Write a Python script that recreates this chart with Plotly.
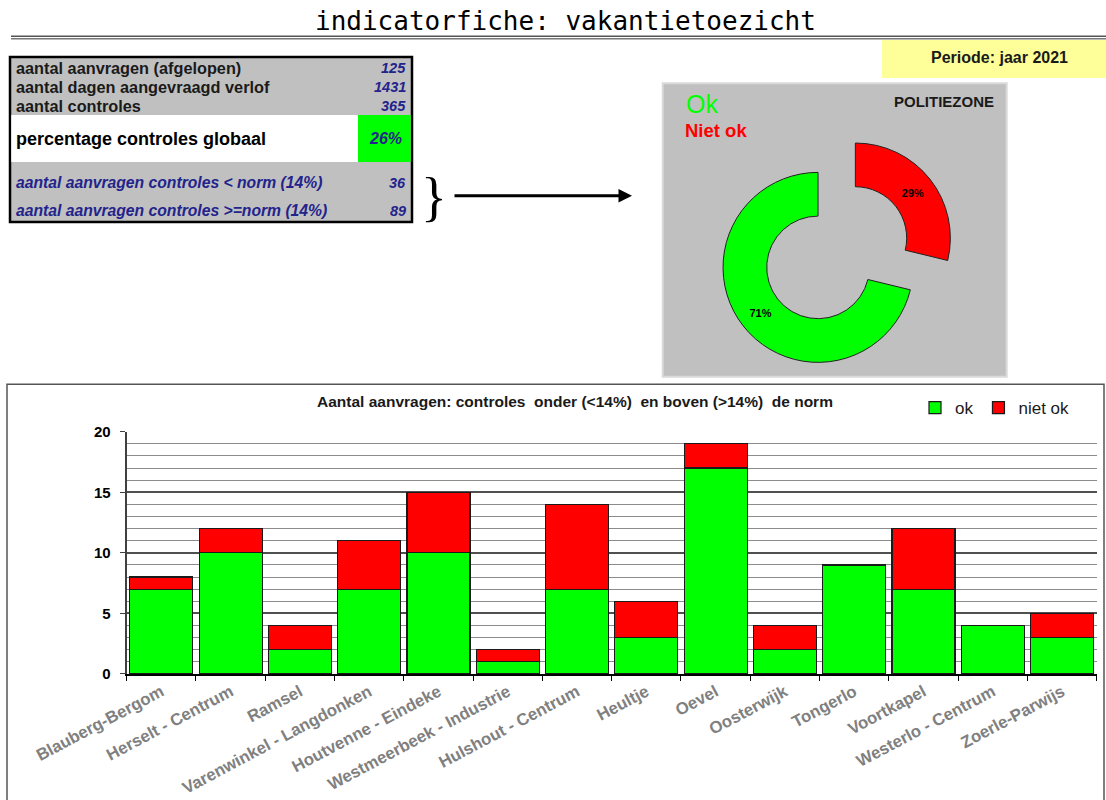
import plotly.graph_objects as go

# ---- data -------------------------------------------------------------
wijken = [
    "Blauberg-Bergom", "Herselt - Centrum", "Ramsel", "Varenwinkel - Langdonken",
    "Houtvenne - Eindeke", "Westmeerbeek - Industrie", "Hulshout - Centrum",
    "Heultje", "Oevel", "Oosterwijk", "Tongerlo", "Voortkapel",
    "Westerlo - Centrum", "Zoerle-Parwijs",
]
ok = [7, 10, 2, 7, 10, 1, 7, 3, 17, 2, 9, 7, 4, 3]
niet_ok = [1, 2, 2, 4, 5, 1, 7, 3, 2, 2, 0, 5, 0, 2]

dagen_verlof = 1431
aantal_controles = 365
norm_pct = 14
periode = "jaar 2021"

aantal_aanvragen = sum(ok) + sum(niet_ok)
onder_norm = sum(niet_ok)
boven_norm = sum(ok)
pct_globaal = round(aantal_controles / dagen_verlof * 100)

# ---- page geometry helpers (pixel -> paper) ---------------------------
W, H = 1106, 800


def px(x):
    return x / W


def py(y):
    return 1 - y / H


FONT = "Liberation Sans, Arial, sans-serif"
NAVY = "#23238C"
GREEN = "#00FF00"
RED = "#FF0000"
GRAY = "#C0C0C0"

fig = go.Figure()

# ---- stacked bars -----------------------------------------------------
fig.add_trace(go.Bar(
    x=wijken, y=ok, name="ok",
    marker=dict(color=GREEN, line=dict(color="#1a1a1a", width=1.2)),
    xaxis="x", yaxis="y",
))
fig.add_trace(go.Bar(
    x=wijken, y=niet_ok, name="niet ok",
    marker=dict(color=RED, line=dict(color="#1a1a1a", width=1.2)),
    xaxis="x", yaxis="y",
))

# ---- exploded donut ---------------------------------------------------
cx, cy, r, pull = 836.7, 252.7, 95, 0.25
half = r * (1 + pull)
fig.add_trace(go.Pie(
    labels=["niet ok", "ok"],
    values=[onder_norm, boven_norm],
    marker=dict(colors=[RED, GREEN], line=dict(color="#222222", width=1)),
    hole=0.54,
    pull=[pull, pull],
    sort=False,
    direction="clockwise",
    rotation=0,
    texttemplate="%{percent:.0%}",
    textposition="inside",
    insidetextorientation="horizontal",
    textfont=dict(family=FONT, size=11, color="black", weight="bold"),
    showlegend=False,
    automargin=False,
    domain=dict(x=[px(cx - half), px(cx + half)], y=[py(cy + half), py(cy - half)]),
))

shapes = []
annotations = []

# ---- page header ------------------------------------------------------
annotations.append(dict(
    x=px(565), y=py(21), xref="paper", yref="paper", showarrow=False,
    text="indicatorfiche: vakantietoezicht",
    font=dict(family="DejaVu Sans Mono, monospace", size=26, color="black"),
    xanchor="center", yanchor="middle",
))
for yy, col in [(36.2, "#555555"), (38.8, "#777777")]:
    shapes.append(dict(type="line", xref="paper", yref="paper",
                       x0=px(11), x1=1, y0=py(yy), y1=py(yy),
                       line=dict(color=col, width=1.5)))

# period box
shapes.append(dict(type="rect", xref="paper", yref="paper",
                   x0=px(882), x1=1, y0=py(78), y1=py(40),
                   fillcolor="#FFFF99", line=dict(width=0), layer="below"))
annotations.append(dict(
    x=px(999), y=py(57), xref="paper", yref="paper", showarrow=False,
    text=f"<b>Periode: {periode}</b>",
    font=dict(family=FONT, size=16, color="#1a1a1a"),
    xanchor="center", yanchor="middle",
))

# ---- summary table ----------------------------------------------------
shapes.append(dict(type="rect", xref="paper", yref="paper",
                   x0=px(10), x1=px(412), y0=py(222), y1=py(57),
                   fillcolor=GRAY, line=dict(color="black", width=2.5),
                   layer="below"))
shapes.append(dict(type="rect", xref="paper", yref="paper",
                   x0=px(11.3), x1=px(358), y0=py(162), y1=py(115),
                   fillcolor="white", line=dict(width=0), layer="below"))
shapes.append(dict(type="rect", xref="paper", yref="paper",
                   x0=px(358), x1=px(410.7), y0=py(162), y1=py(115),
                   fillcolor=GREEN, line=dict(width=0), layer="below"))

table_rows = [
    ("aantal aanvragen (afgelopen)", str(aantal_aanvragen), 68.3, False),
    ("aantal dagen aangevraagd verlof", str(dagen_verlof), 87.3, False),
    ("aantal controles", str(aantal_controles), 106.0, False),
    (f"aantal aanvragen controles < norm ({norm_pct}%)", str(onder_norm), 182.7, True),
    (f"aantal aanvragen controles >=norm ({norm_pct}%)", str(boven_norm), 211.0, True),
]
for label, val, yy, italic in table_rows:
    safe = label.replace("<", "&lt;").replace(">", "&gt;")
    lab = f"<b><i>{safe}</i></b>" if italic else f"<b>{safe}</b>"
    annotations.append(dict(
        x=px(14), y=py(yy), xref="paper", yref="paper", showarrow=False,
        text=lab,
        font=dict(family=FONT, size=15.7 if italic else 16.3,
                  color=NAVY if italic else "#1a1a1a"),
        xanchor="left", yanchor="middle",
    ))
    annotations.append(dict(
        x=px(408), y=py(yy), xref="paper", yref="paper", showarrow=False,
        text=f"<b><i>{val}</i></b>", font=dict(family=FONT, size=14.5, color=NAVY),
        xanchor="right", yanchor="middle",
    ))
annotations.append(dict(
    x=px(14), y=py(139), xref="paper", yref="paper", showarrow=False,
    text="<b>percentage controles globaal</b>",
    font=dict(family=FONT, size=18, color="black"),
    xanchor="left", yanchor="middle",
))
annotations.append(dict(
    x=px(385), y=py(139), xref="paper", yref="paper", showarrow=False,
    text=f"<b><i>{pct_globaal}%</i></b>",
    font=dict(family=FONT, size=16, color=NAVY),
    xanchor="center", yanchor="middle",
))

# brace + arrow towards the donut
annotations.append(dict(
    x=px(434), y=py(197), xref="paper", yref="paper", showarrow=False,
    text="}", font=dict(family="Liberation Serif, serif", size=54, color="black"),
    xanchor="center", yanchor="middle",
))
annotations.append(dict(
    x=px(632), y=py(195.7), xref="paper", yref="paper", text="",
    showarrow=True, ax=-179, ay=0, arrowhead=2, arrowsize=0.9,
    arrowwidth=3, arrowcolor="black",
))

# ---- donut panel ------------------------------------------------------
shapes.append(dict(type="rect", xref="paper", yref="paper",
                   x0=px(662.7), x1=px(1006.7), y0=py(376.7), y1=py(83.3),
                   fillcolor=GRAY, line=dict(color="#DADADA", width=2),
                   layer="below"))
annotations.append(dict(
    x=px(684), y=py(104), xref="paper", yref="paper", showarrow=False,
    text="Ok", font=dict(family=FONT, size=25, color=GREEN),
    xanchor="left", yanchor="middle",
))
annotations.append(dict(
    x=px(683), y=py(130.5), xref="paper", yref="paper", showarrow=False,
    text="<b>Niet ok</b>", font=dict(family=FONT, size=18.5, color=RED),
    xanchor="left", yanchor="middle",
))
annotations.append(dict(
    x=px(996), y=py(101.7), xref="paper", yref="paper", showarrow=False,
    text="<b>POLITIEZONE</b>", font=dict(family=FONT, size=15, color="#1a1a1a"),
    xanchor="right", yanchor="middle",
))

# ---- bar chart panel --------------------------------------------------
shapes.append(dict(type="rect", xref="paper", yref="paper",
                   x0=px(7), x1=px(1104), y0=py(806), y1=py(384.3),
                   fillcolor="white", line=dict(color="#555555", width=1.5),
                   layer="below"))
annotations.append(dict(
    x=px(575), y=py(402), xref="paper", yref="paper", showarrow=False,
    text=f"<b>Aantal aanvragen: controles\u00a0 onder (&lt;{norm_pct}%)\u00a0 en boven (&gt;{norm_pct}%)\u00a0 de norm</b>",
    font=dict(family=FONT, size=15.5, color="#1a1a1a"),
    xanchor="center", yanchor="middle",
))

fig.update_layout(
    width=W, height=H, autosize=False,
    margin=dict(l=0, r=0, t=0, b=0, autoexpand=False),
    paper_bgcolor="white",
    plot_bgcolor=GRAY,
    barmode="stack",
    bargap=0.09,
    shapes=shapes,
    annotations=annotations,
    showlegend=True,
    legend=dict(
        orientation="h", x=px(915), y=py(408), xanchor="left", yanchor="middle",
        font=dict(family=FONT, size=17, color="#1a1a1a"),
        bgcolor="rgba(0,0,0,0)", traceorder="normal",
    ),
    xaxis=dict(
        domain=[px(126.7), px(1096.7)], anchor="y", automargin=False,
        showline=True, linecolor="black", linewidth=1.5,
        ticks="outside", tickson="boundaries", ticklen=5, tickcolor="black",
        showgrid=False, tickangle=-28,
        tickfont=dict(family=FONT, size=16.8, color="#808080", weight="bold"),
        fixedrange=True,
    ),
    yaxis=dict(
        domain=[py(673.9), py(431.7)], anchor="x", automargin=False,
        range=[0, 20], dtick=5, tick0=0,
        showline=True, linecolor="#404040", linewidth=2,
        ticks="outside", ticklen=5, tickcolor="#404040",
        ticklabelstandoff=6,
        gridcolor="#505050", gridwidth=1.5, zeroline=False,
        minor=dict(dtick=1, showgrid=True, gridcolor="#8C8C8C", gridwidth=1),
        tickfont=dict(family=FONT, size=15, color="black", weight="bold"),
        fixedrange=True,
    ),
)

fig.write_html("out.html")
